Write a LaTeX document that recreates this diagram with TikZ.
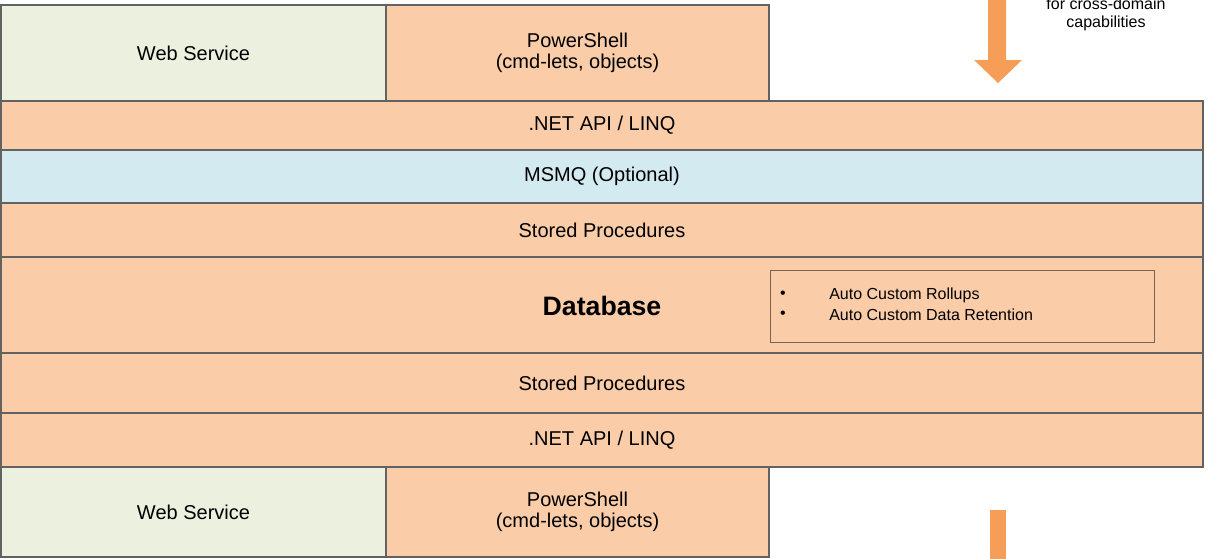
\documentclass[tikz,border=0pt]{standalone}
\usepackage{fontspec}
\setmainfont{Liberation Sans}
\usetikzlibrary{positioning}
\definecolor{peach}{HTML}{FACCA8}
\definecolor{sage}{HTML}{EBF1DE}
\definecolor{paleblue}{HTML}{D2EAF0}
\definecolor{edgegray}{HTML}{626262}
\definecolor{boxbrown}{HTML}{786455}
\definecolor{arrowfill}{HTML}{F69E58}
\begin{document}
\begin{tikzpicture}[x=0.75pt,y=-0.75pt,
    pxsize/.style 2 args={minimum width=#1*0.75pt, minimum height=#2*0.75pt},
    layer/.style={draw=edgegray, line width=1pt, fill=peach, anchor=north west,
      inner sep=0pt, outer sep=0pt, align=center, font=\fontsize{15}{16}\selectfont},
    rollbox/.style={draw=boxbrown, line width=0.8pt, anchor=north west, inner sep=0pt},
    smalltext/.style={inner sep=0pt, font=\fontsize{12}{13.5}\selectfont, align=center}]
     \useasboundingbox (0,0) rectangle (1207,558);
     \clip (0,0) rectangle (1207,558);

     % top tier
     \node[layer, fill=sage, pxsize={385}{96}] (webtop) at (1,5) {Web Service};
     \node[layer, pxsize={383}{96}, right=0pt of webtop.north east, anchor=north west] (pstop)
       {PowerShell\\(cmd-lets, objects)};

     % middle layers
     \node[layer, pxsize={1202}{49}, below=0pt of webtop.south west, anchor=north west] (apitop)
       {.NET API / LINQ};
     \node[layer, fill=paleblue, pxsize={1202}{53}, below=0pt of apitop.south west, anchor=north west] (msmq)
       {MSMQ (Optional)};
     \node[layer, pxsize={1202}{54}, below=0pt of msmq.south west, anchor=north west] (sptop)
       {Stored Procedures};
     \node[layer, pxsize={1202}{96}, below=0pt of sptop.south west, anchor=north west] (db) {};
     \node[layer, pxsize={1202}{60}, below=0pt of db.south west, anchor=north west] (spbot)
       {Stored Procedures};
     \node[layer, pxsize={1202}{54}, below=0pt of spbot.south west, anchor=north west] (apibot)
       {.NET API / LINQ};

     % bottom tier
     \node[layer, fill=sage, pxsize={385}{90}, below=0pt of apibot.south west, anchor=north west] (webbot)
       {Web Service};
     \node[layer, pxsize={383}{90}, right=0pt of webbot.north east, anchor=north west] (psbot)
       {PowerShell\\(cmd-lets, objects)};

     % database contents
     \node[inner sep=0pt, font=\fontsize{20}{22}\selectfont\bfseries] (dbname) at (602,306) {Database};
     \node[rollbox, pxsize={384}{72}] (rollbox) at (770,270) {};
     \node[smalltext] (bulleta) at (783,295) {\textbullet};
     \node[smalltext] (bulletb) at (783,315) {\textbullet};
     \node[smalltext, anchor=west] (rollups) at (829,295) {Auto Custom Rollups};
     \node[smalltext, anchor=west] (retention) at (829,315) {Auto Custom Data Retention};

     % arrows and note
     \node[smalltext] (note) at (1106,14) {for cross-domain\\capabilities};
     \fill[arrowfill] (988,-10) -- (1006,-10) -- (1006,60) -- (1022,60) -- (998,83)
       -- (974,60) -- (988,60) -- cycle;
     \fill[arrowfill] (990,510) rectangle (1006,570);
    \end{tikzpicture}
\end{document}
